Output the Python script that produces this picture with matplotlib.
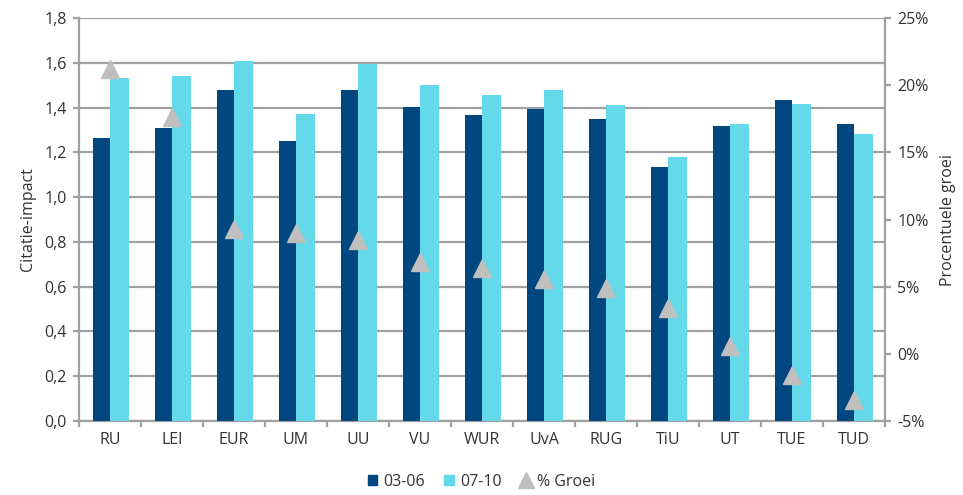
import matplotlib.pyplot as plt
import numpy as np
from matplotlib.ticker import FuncFormatter, MultipleLocator
from matplotlib.lines import Line2D
from matplotlib.patches import Patch

plt.rcParams['font.family'] = ['Open Sans', 'DejaVu Sans']

# Data
universities = ['RU', 'LEI', 'EUR', 'UM', 'UU', 'VU', 'WUR', 'UvA', 'RUG', 'TiU', 'UT', 'TUE', 'TUD']
impact_0306 = [1.262, 1.307, 1.478, 1.251, 1.478, 1.402, 1.369, 1.392, 1.348, 1.135, 1.317, 1.434, 1.326]
impact_0710 = [1.530, 1.540, 1.606, 1.371, 1.595, 1.499, 1.455, 1.478, 1.412, 1.177, 1.326, 1.414, 1.284]
growth_pct = [21.2, 17.6, 9.3, 9.0, 8.5, 6.8, 6.4, 5.6, 4.9, 3.4, 0.6, -1.6, -3.4]

dark = '#00467f'
light = '#63d9ea'
grey = '#bfbfbf'
axis_col = '#a0a0a0'
text_col = '#333333'

x = np.arange(len(universities))

fig = plt.figure(figsize=(9.63, 4.95), dpi=100)
ax = fig.add_axes([0.082, 0.1495, 0.837, 0.8141])

ax.bar(x - 0.135, impact_0306, width=0.27, color=dark, zorder=3)
ax.bar(x + 0.155, impact_0710, width=0.31, color=light, zorder=3)

ax.set_xlim(-0.5, len(universities) - 0.5)
ax.set_ylim(0, 1.8)
ax.yaxis.set_major_locator(MultipleLocator(0.2))
ax.yaxis.set_major_formatter(FuncFormatter(lambda v, p: f'{v:.1f}'.replace('.', ',')))
ax.grid(axis='y', color=axis_col, linewidth=1.6, zorder=0)
ax.set_ylabel('Citatie-impact', fontsize=11.5, color=text_col, labelpad=6)

ax.set_xticks(x)
ax.set_xticklabels(universities, fontsize=11.5, color=text_col)
ax.set_xticks(np.arange(-0.5, len(universities) + 0.5, 1), minor=True)
ax.tick_params(axis='x', which='major', length=0, pad=8)
ax.tick_params(axis='x', which='minor', length=4, width=1.6, color=axis_col, direction='out')
ax.tick_params(axis='y', length=4, width=1.6, color=axis_col, labelsize=11.5, labelcolor=text_col, pad=5)

for s in ['left', 'bottom']:
    ax.spines[s].set_color(axis_col)
    ax.spines[s].set_linewidth(1.6)
ax.spines['top'].set_visible(False)
ax.spines['right'].set_visible(False)

ax2 = ax.twinx()
ax2.plot(x, growth_pct, linestyle='none', marker='^', markersize=13, color=grey, zorder=5)
ax2.set_ylim(-5, 25)
ax2.yaxis.set_major_locator(MultipleLocator(5))
ax2.yaxis.set_major_formatter(FuncFormatter(lambda v, p: f'{v:.0f}%'))
ax2.tick_params(axis='y', length=4, width=1.6, color=axis_col, labelsize=11.5, labelcolor=text_col, pad=5)
ax2.set_ylabel('Procentuele groei', fontsize=11.5, color=text_col, labelpad=8)
for s in ['top', 'left', 'bottom']:
    ax2.spines[s].set_visible(False)
ax2.spines['right'].set_color(axis_col)
ax2.spines['right'].set_linewidth(1.6)

handles = [Patch(color=dark, label='03-06'),
           Patch(color=light, label='07-10'),
           Line2D([], [], linestyle='none', marker='^', markersize=11, color=grey, label='% Groei')]
fig.legend(handles=handles, loc='lower center', bbox_to_anchor=(0.5, -0.018), ncol=3, frameon=False,
           fontsize=11.5, handlelength=0.6, handleheight=0.6, handletextpad=0.4, columnspacing=1.2,
           labelcolor=text_col)

fig.savefig('out.png', dpi=100)
